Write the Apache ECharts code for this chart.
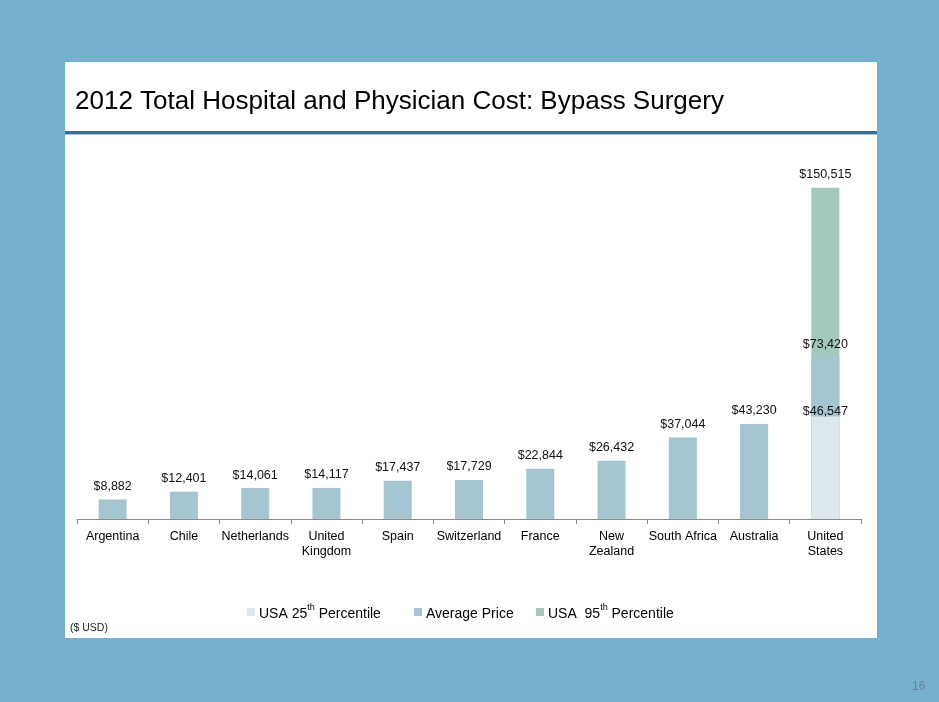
<!DOCTYPE html>
<html>
<head>
<meta charset="utf-8">
<script src="https://cdn.jsdelivr.net/npm/echarts@6/dist/echarts.min.js"></script>
<style>
html,body{margin:0;padding:0;background:#75b0cf;}
#chart{width:939px;height:702px;}
</style>
</head>
<body>
<div id="chart"></div>
<script>
const categories = ['Argentina','Chile','Netherlands','United\nKingdom','Spain','Switzerland','France','New\nZealand','South Africa','Australia','United\nStates'];
const averagePrice = [8882,12401,14061,14117,17437,17729,22844,26432,37044,43230,73420];
const usa25th = [null,null,null,null,null,null,null,null,null,null,46547];
const usa95th = [null,null,null,null,null,null,null,null,null,null,150515];
const titleText = '2012 Total Hospital and Physician Cost: Bypass Surgery';

const FONT = 'Liberation Sans, Arial, sans-serif';
const fmt = v => '$' + Number(v).toLocaleString('en-US');

const chart = echarts.init(document.getElementById('chart'), null, {renderer:'canvas'});

const legendRich = {
  a:{fontSize:14, fontFamily:FONT, color:'#000', lineHeight:18, verticalAlign:'bottom'},
  s:{fontSize:9, fontFamily:FONT, color:'#000', lineHeight:18, verticalAlign:'top'}
};
function mkLegend(name, left){
  return {
    data:[name], left:left, top:603, padding:0, itemWidth:8, itemHeight:8, icon:'rect',
    selectedMode:false, itemGap:5,
    textStyle:{rich:legendRich, fontFamily:FONT, fontSize:14, color:'#000', padding:[0,0,0,-1]},
    formatter: function(n){
      if(n==='USA 25th Percentile') return '{a|USA 25}{s|th}{a| Percentile}';
      if(n==='USA 95th Percentile') return '{a|USA  95}{s|th}{a| Percentile}';
      return '{a|' + n + '}{s| }';
    }
  };
}

const labelBase = {show:true, position:'top', distance:6.5, fontSize:12.5, fontFamily:FONT, color:'#111', formatter:p => fmt(p.value)};

chart.setOption({
  backgroundColor:'#75b0cf',
  animation:false,
  title:{text:titleText, left:70, top:84, textStyle:{fontFamily:FONT, fontSize:26, fontWeight:'normal', color:'#000'}},
  graphic:[
    {type:'rect', z:-10, shape:{x:65,y:62,width:812,height:576}, style:{fill:'#ffffff'}},
    {type:'rect', z:-9, shape:{x:65,y:131,width:812,height:3}, style:{fill:'#3d6d94'}},
    {type:'rect', z:-9, shape:{x:65,y:134,width:812,height:1}, style:{fill:'#a9c6da'}},
    {type:'text', z:5, left:70, top:623, style:{text:'($ USD)', fontFamily:FONT, fontSize:10.5, fill:'#222'}},
    {type:'text', z:5, left:912, top:681, style:{text:'16', fontFamily:FONT, fontSize:12, fill:'#6a8296'}}
  ],
  legend:[mkLegend('USA 25th Percentile',247), mkLegend('Average Price',414), mkLegend('USA 95th Percentile',536)],
  grid:{left:77, right:78, top:167, bottom:183, containLabel:false},
  xAxis:{
    type:'category', data:categories, boundaryGap:true,
    axisLine:{lineStyle:{color:'#8a8a8a', width:1}},
    axisTick:{show:true, alignWithLabel:false, length:5, lineStyle:{color:'#8a8a8a'}},
    axisLabel:{interval:0, fontSize:12.5, fontFamily:FONT, color:'#000', lineHeight:15, margin:10}
  },
  yAxis:{type:'value', min:0, max:160000, show:false, splitLine:{show:false}},
  series:[
    {name:'USA 95th Percentile', type:'bar', data:usa95th, barWidth:28, barGap:'-100%',
     itemStyle:{color:'#a3c9bd'}, label:labelBase, z:2},
    {name:'Average Price', type:'bar', data:averagePrice, barWidth:28, barGap:'-100%',
     itemStyle:{color:'#a3c6d1'}, label:labelBase, z:3},
    {name:'USA 25th Percentile', type:'bar', data:usa25th, barWidth:28, barGap:'-100%',
     itemStyle:{color:'#dde8ed'}, label:Object.assign({}, labelBase, {distance:-1}), z:4}
  ]
});
</script>
</body>
</html>
